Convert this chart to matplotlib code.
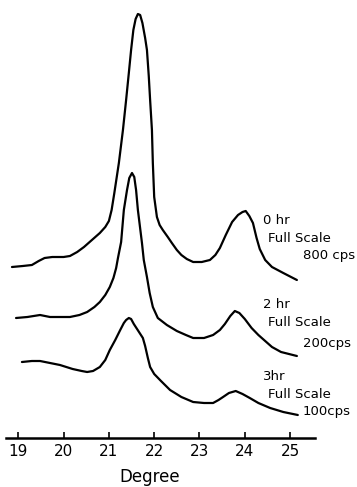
import matplotlib
matplotlib.use("Agg")
import matplotlib.pyplot as plt

# diffraction traces: angle (degree) and pen height (arbitrary)
deg_0hr = [18.86, 19.10, 19.30, 19.45, 19.58, 19.75, 20.00, 20.14, 20.30, 20.45, 20.65,
           20.80, 20.92, 21.00, 21.06, 21.12, 21.22, 21.31, 21.38, 21.44, 21.49, 21.54,
           21.59, 21.64, 21.69, 21.74, 21.80, 21.84, 21.88, 21.91, 21.95, 21.97, 22.00,
           22.06, 22.12, 22.19, 22.30, 22.39, 22.50, 22.60, 22.72, 22.86, 23.05, 23.23,
           23.35, 23.45, 23.58, 23.72, 23.85, 23.95, 24.02, 24.10, 24.18, 24.26, 24.33,
           24.45, 24.60, 24.85, 25.15]
int_0hr = [171, 172, 173, 177, 180, 181, 181, 182, 186, 191, 199,
           205, 211, 217, 228, 245, 275, 308, 338, 365, 388, 408,
           419, 424, 423, 415, 400, 388, 362, 338, 308, 275, 241,
           221, 213, 208, 201, 195, 188, 183, 179, 176, 176, 178,
           183, 190, 203, 216, 223, 226, 227, 222, 215, 200, 189,
           178, 171, 165, 158]

deg_2hr = [18.95, 19.20, 19.48, 19.70, 19.85, 20.14, 20.35, 20.52, 20.68, 20.80, 20.92,
           21.02, 21.10, 21.16, 21.20, 21.27, 21.33, 21.40, 21.45, 21.51, 21.56, 21.60,
           21.64, 21.73, 21.77, 21.84, 21.90, 21.97, 22.08, 22.28, 22.50, 22.70, 22.86,
           23.10, 23.30, 23.45, 23.56, 23.68, 23.78, 23.88, 24.00, 24.15, 24.30, 24.45,
           24.60, 24.80, 25.15]
int_2hr = [120, 121, 123, 121, 121, 121, 123, 126, 131, 136, 143,
           151, 160, 170, 180, 196, 228, 248, 260, 265, 261, 248,
           228, 195, 178, 161, 145, 131, 120, 113, 107, 103, 100,
           100, 103, 108, 114, 122, 127, 125, 119, 110, 103, 97,
           91, 86, 82]

deg_3hr = [19.08, 19.30, 19.48, 19.70, 19.92, 20.20, 20.40, 20.52, 20.65, 20.80, 20.92,
           21.02, 21.14, 21.25, 21.33, 21.38, 21.44, 21.49, 21.55, 21.65, 21.75, 21.80,
           21.86, 21.91, 22.00, 22.15, 22.35, 22.60, 22.86, 23.10, 23.30, 23.42, 23.52,
           23.65, 23.80, 23.95, 24.11, 24.30, 24.56, 24.85, 25.17]
int_3hr = [76, 77, 77, 75, 73, 69, 67, 66, 67, 71, 78,
           88, 98, 108, 115, 118, 120, 119, 114, 107, 100, 92,
           80, 71, 64, 57, 48, 41, 36, 35, 35, 38, 41,
           45, 47, 44, 40, 35, 30, 26, 23]

ticks = [19, 20, 21, 22, 23, 24, 25]
notes = [("0 hr", "Full Scale", "800 cps", 217, 200, 183),
         ("2 hr", "Full Scale", "200cps", 133, 115, 95),
         ("3hr", "Full Scale", "100cps", 62, 44, 26)]

fig = plt.figure(figsize=(3.57, 4.87), dpi=100)
ax = fig.add_axes([0, 49 / 487, 1, 438 / 487])

for d, v in [(deg_0hr, int_0hr), (deg_2hr, int_2hr), (deg_3hr, int_3hr)]:
    ax.plot(d, v, color="black", lw=1.6, solid_capstyle="round", solid_joinstyle="round")

for a, b, c, y1, y2, y3 in notes:
    ax.text(24.40, y1, a, fontsize=9.5, va="center", ha="left")
    ax.text(24.51, y2, b, fontsize=9.5, va="center", ha="left")
    ax.text(25.28, y3, c, fontsize=9.5, va="center", ha="left")

ax.set_xlim(18.596, 26.477)
ax.set_ylim(0, 438)
ax.set_xticks(ticks)
ax.tick_params(axis="x", direction="in", length=4, width=1.2, labelsize=11, pad=4)
ax.set_yticks([])
for s in ["top", "left", "right"]:
    ax.spines[s].set_visible(False)
ax.spines["bottom"].set_bounds(18.73, 25.55)
ax.spines["bottom"].set_linewidth(1.8)
ax.set_xlabel("Degree", fontsize=12)
ax.xaxis.set_label_coords(0.42, -0.068)
ax.xaxis.label.set_va("top")

fig.savefig("out.png", dpi=100)
